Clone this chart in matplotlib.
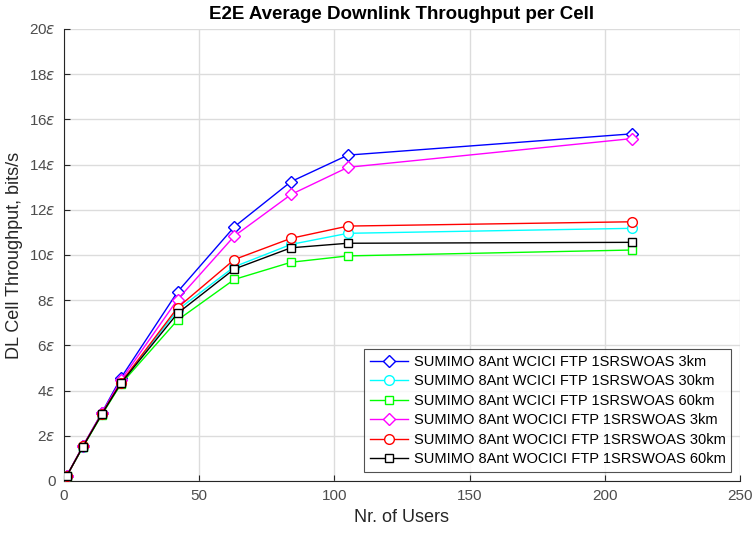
import matplotlib
matplotlib.use("Agg")
import matplotlib.pyplot as plt

plt.rcParams["font.family"] = ["Liberation Sans", "DejaVu Sans"]
plt.rcParams["mathtext.fontset"] = "dejavusans"

users = [1, 7, 14, 21, 42, 63, 84, 105, 210]

wcici_3km = [0.22, 1.55, 3.02, 4.55, 8.37, 11.25, 13.25, 14.42, 15.36]
wcici_30km = [0.22, 1.52, 2.97, 4.33, 7.57, 9.48, 10.47, 10.96, 11.18]
wcici_60km = [0.22, 1.50, 2.93, 4.28, 7.12, 8.92, 9.68, 9.96, 10.22]
wocici_3km = [0.22, 1.55, 3.00, 4.45, 8.03, 10.84, 12.68, 13.88, 15.15]
wocici_30km = [0.22, 1.53, 2.98, 4.35, 7.67, 9.80, 10.74, 11.28, 11.47]
wocici_60km = [0.22, 1.52, 2.96, 4.32, 7.42, 9.38, 10.32, 10.52, 10.56]

series = [
    (wcici_3km, "SUMIMO 8Ant WCICI FTP 1SRSWOAS 3km", "#0000ff", "D"),
    (wcici_30km, "SUMIMO 8Ant WCICI FTP 1SRSWOAS 30km", "#00ffff", "o"),
    (wcici_60km, "SUMIMO 8Ant WCICI FTP 1SRSWOAS 60km", "#00ff00", "s"),
    (wocici_3km, "SUMIMO 8Ant WOCICI FTP 1SRSWOAS 3km", "#ff00ff", "D"),
    (wocici_30km, "SUMIMO 8Ant WOCICI FTP 1SRSWOAS 30km", "#ff0000", "o"),
    (wocici_60km, "SUMIMO 8Ant WOCICI FTP 1SRSWOAS 60km", "#000000", "s"),
]

yticks = list(range(0, 21, 2))
ytick_labels = ["0"] + [f"{v}$\\epsilon$" for v in yticks[1:]]

fig = plt.figure(figsize=(7.54, 5.36), dpi=100)
ax = fig.add_axes([64 / 754, 55 / 536, 676 / 754, 452 / 536])

for vals, label, col, mk in series:
    ms = 6.5 if mk == "D" else 7 if mk == "o" else 6
    ax.plot(users, vals, color=col, marker=mk, markersize=ms,
            markerfacecolor="white", markeredgecolor=col, linewidth=1.0,
            label=label, zorder=3)

ax.set_xlim(0, 250)
ax.set_ylim(0, 20)
ax.set_xticks([0, 50, 100, 150, 200, 250])
ax.set_yticks(yticks)
ax.set_yticklabels(ytick_labels)
ax.grid(True, color="#dcdcdc", linewidth=1.0)
ax.set_axisbelow(True)
for s in ["top", "right"]:
    ax.spines[s].set_visible(False)
for s in ["left", "bottom"]:
    ax.spines[s].set_color("#262626")
ax.tick_params(direction="in", length=4, labelsize=11, colors="#262626",
               labelcolor="#4d4d4d", pad=6)

ax.set_title("E2E Average Downlink Throughput per Cell", fontsize=13.5,
             fontweight="bold", pad=7)
ax.set_xlabel("Nr. of Users", fontsize=13, color="#262626")
ax.set_ylabel("DL Cell Throughput, bits/s", fontsize=13, color="#262626")

leg = ax.legend(loc="lower right", fontsize=10.5, frameon=True, fancybox=False,
                edgecolor="#262626", handlelength=2.6, borderaxespad=0.6,
                labelspacing=0.38, handletextpad=0.4)
leg.get_frame().set_linewidth(0.8)

fig.savefig("out.png", dpi=100)
